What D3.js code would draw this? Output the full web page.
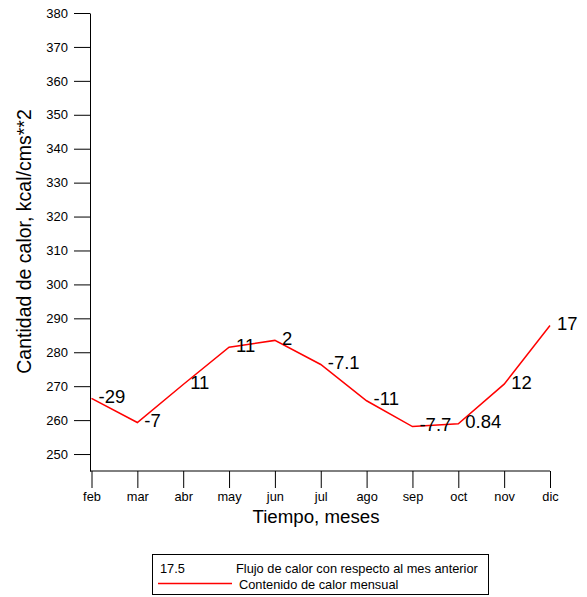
<!DOCTYPE html>
<html>
<head>
<meta charset="utf-8">
<script src="https://cdn.jsdelivr.net/npm/d3@7"></script>
<style>
  body { margin: 0; background: #fff; }
  svg { font-family: "Liberation Sans", Arial, sans-serif; }
</style>
</head>
<body>
<svg width="587" height="597"></svg>
<script>
//months on the x axis
var months = ['feb', 'mar', 'abr', 'may', 'jun', 'jul', 'ago', 'sep', 'oct', 'nov', 'dic'];
//monthly heat content, kcal/cms**2
var heat = [266.4, 259.3, 270.5, 281.5, 283.5, 276.4, 265.7, 258.1, 258.9, 270.6, 287.9];
//flux with respect to previous month (labels next to each point)
var flux = ['-29', '-7', '11', '11', '2', '-7.1', '-11', '-7.7', '0.84', '12', '17'];
//y ticks
var yTicks = d3.range(250, 381, 10);

var svg = d3.select('svg');

//scales
var x = d3.scalePoint()
          .domain(months)
          .range([91.5, 550]);

var y = d3.scaleLinear()
          .domain([245, 380])
          .range([471, 13]);

//y axis
svg.append('g')
   .attr('transform', 'translate(90,0)')
   .call(d3.axisLeft(y).tickValues(yTicks).tickSize(16).tickPadding(6).tickSizeOuter(0))
   .call(function(g) {
       g.select('.domain').attr('stroke', '#000');
       g.selectAll('.tick line').attr('stroke', '#000');
       g.selectAll('.tick text').attr('font-size', 13).attr('fill', '#000')
        .attr('font-family', '"Liberation Sans", Arial, sans-serif');
   });

//x axis
svg.append('g')
   .attr('transform', 'translate(0,471)')
   .call(d3.axisBottom(x).tickSize(17).tickPadding(4).tickSizeOuter(0))
   .call(function(g) {
       g.select('.domain').attr('d', 'M90,0H550').attr('stroke', '#000');
       g.selectAll('.tick line').attr('stroke', '#000');
       g.selectAll('.tick text').attr('font-size', 12.8).attr('fill', '#000')
        .attr('font-family', '"Liberation Sans", Arial, sans-serif');
   });

//axis titles
svg.append('text')
   .attr('x', 316)
   .attr('y', 523)
   .attr('text-anchor', 'middle')
   .attr('font-size', 18.7)
   .text('Tiempo, meses');

svg.append('text')
   .attr('transform', 'translate(31,241.5) rotate(-90)')
   .attr('text-anchor', 'middle')
   .attr('font-size', 19.5)
   .text('Cantidad de calor, kcal/cms**2');

//the line
var line = d3.line()
             .x(function(d, i) { return x(months[i]); })
             .y(function(d) { return y(d); });

svg.append('path')
   .datum(heat)
   .attr('d', line)
   .attr('fill', 'none')
   .attr('stroke', '#ff0000')
   .attr('stroke-width', 1.5);

//flux labels
svg.selectAll('.flux')
   .data(heat)
   .enter()
   .append('text')
   .attr('class', 'flux')
   .attr('x', function(d, i) { return x(months[i]) + 7; })
   .attr('y', function(d) { return y(d) - 2; })
   .attr('dy', '0.35em')
   .attr('font-size', 18.5)
   .text(function(d, i) { return flux[i]; });

//legend
var legend = svg.append('g');
legend.append('rect')
      .attr('x', 152.5).attr('y', 554.5)
      .attr('width', 336).attr('height', 40)
      .attr('fill', 'none').attr('stroke', '#000');
legend.append('text')
      .attr('x', 160).attr('y', 573)
      .attr('font-size', 12.8)
      .text('17.5');
legend.append('text')
      .attr('x', 236).attr('y', 573)
      .attr('font-size', 12.8)
      .text('Flujo de calor con respecto al mes anterior');
legend.append('line')
      .attr('x1', 158).attr('x2', 232)
      .attr('y1', 583.5).attr('y2', 583.5)
      .attr('stroke', '#ff0000').attr('stroke-width', 1.5);
legend.append('text')
      .attr('x', 239).attr('y', 589)
      .attr('font-size', 12.8)
      .text('Contenido de calor mensual');
</script>
</body>
</html>
